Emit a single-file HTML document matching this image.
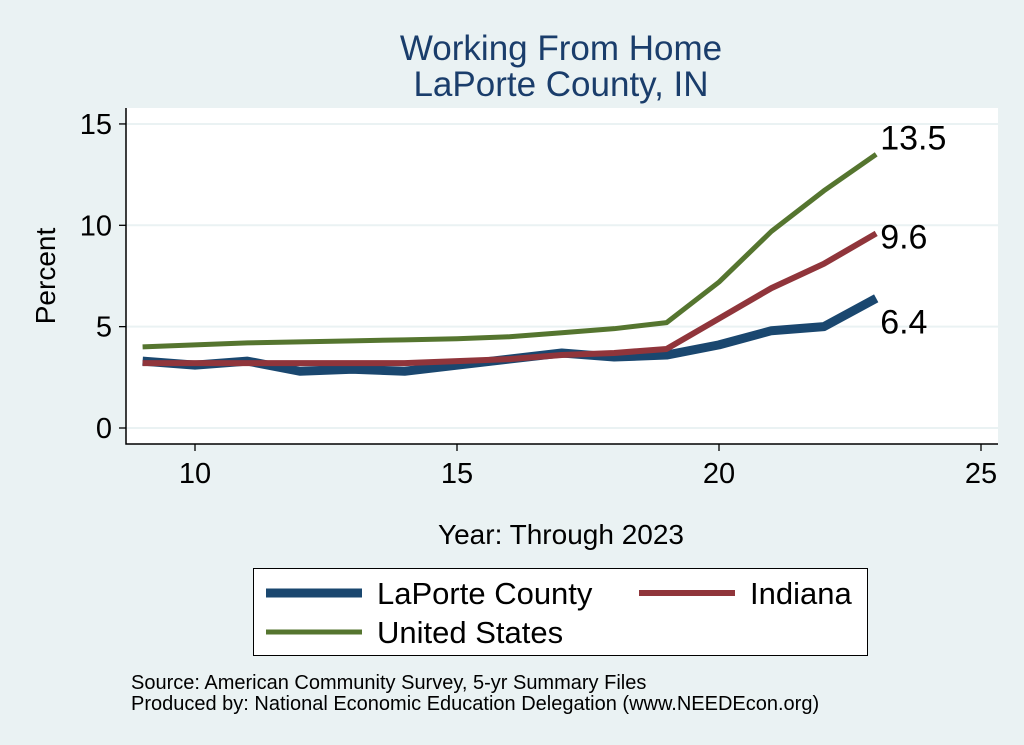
<!DOCTYPE html>
<html><head><meta charset="utf-8"><style>
body{margin:0;background:#eaf2f3;}
svg{display:block;font-family:"Liberation Sans",Arial,sans-serif;}
</style></head><body>
<svg id="c" width="1024" height="745" viewBox="0 0 1024 745">
<rect x="0" y="0" width="1024" height="745" fill="#eaf2f3"/>
<text x="561" y="60" font-size="35" fill="#1a3d6b" text-anchor="middle">Working From Home</text>
<text x="561" y="96" font-size="35" fill="#1a3d6b" text-anchor="middle">LaPorte County, IN</text>
<rect x="126" y="108" width="872" height="336" fill="#fff"/>
<g id="grid"></g><g id="axes"></g><g id="series"></g>
<text transform="translate(55,276) rotate(-90)" font-size="28" text-anchor="middle">Percent</text>
<text x="561" y="544" font-size="28" text-anchor="middle">Year: Through 2023</text>
<g>
<rect x="253.5" y="568.5" width="614" height="87" fill="#fff" stroke="#000" stroke-width="1"/>
<line x1="266" y1="593" x2="362" y2="593" stroke="#1a476f" stroke-width="9"/>
<text x="377" y="604" font-size="31">LaPorte County</text>
<line x1="639" y1="593" x2="735" y2="593" stroke="#90353b" stroke-width="6"/>
<text x="750" y="604" font-size="31">Indiana</text>
<line x1="266" y1="632" x2="362" y2="632" stroke="#55752f" stroke-width="5"/>
<text x="377" y="643" font-size="31">United States</text>
</g>
<text x="131" y="689" font-size="20">Source: American Community Survey, 5-yr Summary Files</text>
<text x="131" y="710" font-size="20">Produced by: National Economic Education Delegation (www.NEEDEcon.org)</text>
</svg>
<script>
const years=[9,10,11,12,13,14,15,16,17,18,19,20,21,22,23];
const laporte=[3.3,3.1,3.3,2.8,2.9,2.8,3.1,3.4,3.7,3.5,3.6,4.1,4.8,5.0,6.4];
const indiana=[3.2,3.2,3.2,3.2,3.2,3.2,3.3,3.4,3.6,3.7,3.9,5.4,6.9,8.1,9.6];
const us=[4.0,4.1,4.2,4.25,4.3,4.35,4.4,4.5,4.7,4.9,5.2,7.2,9.7,11.7,13.5];
const xTicks=[10,15,20,25];
const yTicks=[0,5,10,15];
const NS='http://www.w3.org/2000/svg';
const X=v=>195+(v-10)*52.4;
const Y=v=>428-v*20.27;
function mk(tag,attrs,parent){const e=document.createElementNS(NS,tag);for(const k in attrs)e.setAttribute(k,attrs[k]);parent.appendChild(e);return e;}
const grid=document.getElementById('grid'),axes=document.getElementById('axes'),ser=document.getElementById('series');
yTicks.forEach(t=>{
 const g=mk('line',{x1:126,x2:998,y1:Y(t),y2:Y(t),stroke:'#eaf2f3','stroke-width':2},grid);
 
 
 const tk=mk('line',{x1:119,x2:126,y1:Y(t),y2:Y(t),stroke:'#000','stroke-width':1.3},axes);
 
 
 const tx=mk('text',{x:112,y:Y(t)+10,'font-size':29,'text-anchor':'end'},axes);tx.textContent=t;
 
 
});
xTicks.forEach(t=>{
 const tk=mk('line',{x1:X(t),x2:X(t),y1:444,y2:451,stroke:'#000','stroke-width':1.3},axes);
 
 
 const tx=mk('text',{x:X(t),y:483,'font-size':29,'text-anchor':'middle'},axes);tx.textContent=t;
 
 
});
const al=mk('path',{d:'M126 108 V444 H998',fill:'none',stroke:'#000','stroke-width':1.5},axes);


[[laporte,'#1a476f',9,'series-laporte',35],[indiana,'#90353b',6,'series-indiana',15],[us,'#55752f',5,'series-us',-5]].forEach(([d,c,w,n,dy])=>{
 const p=mk('polyline',{points:years.map((y,i)=>X(y)+','+Y(d[i])).join(' '),fill:'none',stroke:c,'stroke-width':w,'stroke-linejoin':'round'},ser);
 
 
 const last=d.length-1;
 const lb=mk('text',{x:X(years[last])+4,y:Y(d[last])+dy,'font-size':34},ser);lb.textContent=d[last].toFixed(1);
 
 
});
</script>
</body></html>
